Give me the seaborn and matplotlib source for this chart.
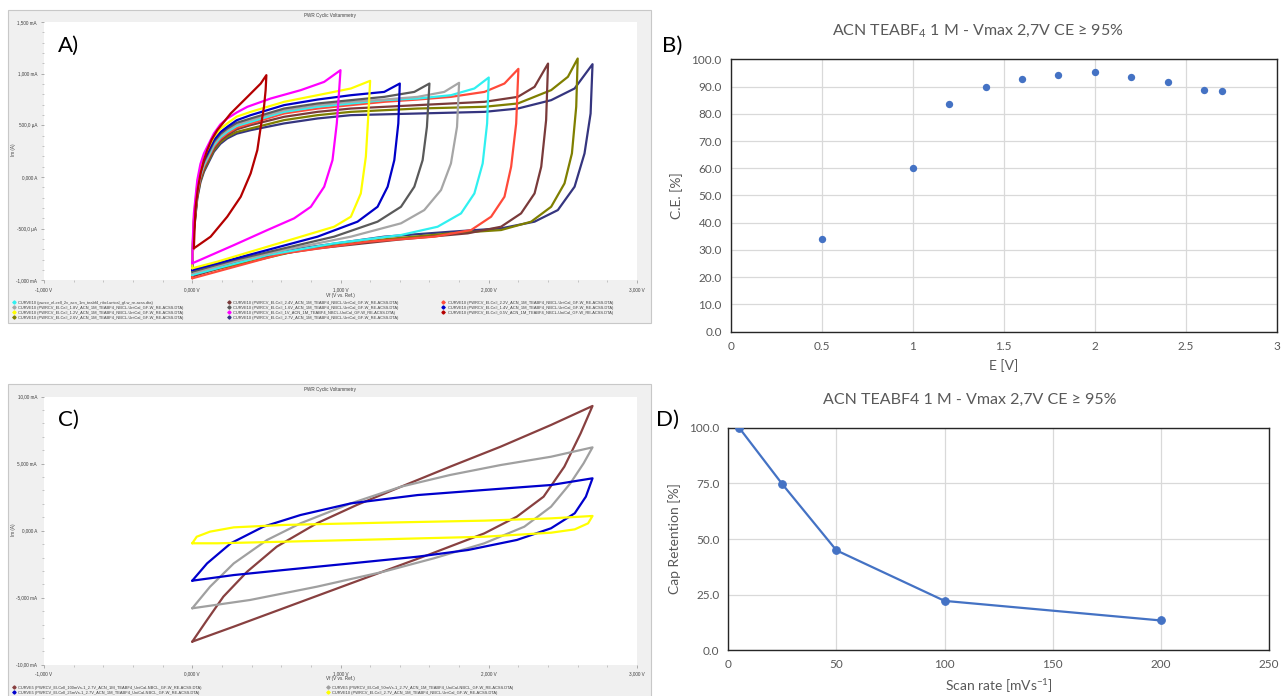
import matplotlib
matplotlib.use("Agg")
import matplotlib.pyplot as plt
from matplotlib.patches import Rectangle
from matplotlib.lines import Line2D
from matplotlib.ticker import AutoMinorLocator
import pandas as pd
import seaborn as sns

# ---------------- Panel A: CV at increasing vertex potential (mA vs V) ----------------
A_V_05 = [0.011, 0.016, 0.023, 0.038, 0.056, 0.078, 0.101, 0.130, 0.169, 0.259, 0.372, 0.462, 0.500, 0.495, 0.484, 0.462, 0.439, 0.394, 0.327, 0.236, 0.124, 0.011]
A_I_05 = [-0.689, -0.490, -0.287, -0.110, 0.036, 0.160, 0.261, 0.360, 0.454, 0.615, 0.776, 0.905, 0.986, 0.841, 0.680, 0.486, 0.261, 0.036, -0.190, -0.383, -0.576, -0.689]

A_V_10 = [0.000, 0.004, 0.011, 0.034, 0.055, 0.079, 0.146, 0.190, 0.236, 0.300, 0.372, 0.529, 0.732, 0.890, 1.000, 0.991, 0.975, 0.946, 0.890, 0.800, 0.687, 0.507, 0.282, 0.000]
A_I_10 = [-0.834, -0.590, -0.351, -0.029, 0.126, 0.229, 0.422, 0.510, 0.567, 0.625, 0.680, 0.760, 0.841, 0.921, 1.034, 0.841, 0.519, 0.164, -0.093, -0.287, -0.399, -0.512, -0.657, -0.834]

A_V_12 = [0.000, 0.004, 0.011, 0.034, 0.055, 0.079, 0.146, 0.190, 0.236, 0.300, 0.394, 0.619, 0.845, 1.070, 1.200, 1.187, 1.171, 1.137, 1.070, 0.957, 0.845, 0.507, 0.169, 0.000]
A_I_12 = [-0.882, -0.630, -0.383, -0.061, 0.094, 0.197, 0.390, 0.467, 0.519, 0.585, 0.631, 0.728, 0.792, 0.857, 0.931, 0.583, 0.197, -0.158, -0.383, -0.480, -0.528, -0.673, -0.818, -0.882]

A_V_14 = [0.000, 0.004, 0.011, 0.034, 0.055, 0.079, 0.146, 0.190, 0.236, 0.300, 0.394, 0.619, 0.845, 1.070, 1.295, 1.400, 1.390, 1.363, 1.318, 1.250, 1.115, 0.845, 0.507, 0.169, 0.000]
A_I_14 = [-0.898, -0.650, -0.415, -0.093, 0.061, 0.164, 0.358, 0.435, 0.486, 0.550, 0.599, 0.696, 0.750, 0.792, 0.824, 0.905, 0.519, 0.164, -0.093, -0.287, -0.431, -0.576, -0.705, -0.834, -0.898]

A_V_16 = [0.000, 0.004, 0.011, 0.034, 0.055, 0.079, 0.146, 0.190, 0.236, 0.300, 0.394, 0.619, 0.845, 1.070, 1.295, 1.498, 1.600, 1.583, 1.554, 1.498, 1.408, 1.250, 0.957, 0.619, 0.282, 0.000]
A_I_16 = [-0.914, -0.670, -0.431, -0.109, 0.045, 0.148, 0.341, 0.418, 0.470, 0.525, 0.567, 0.663, 0.712, 0.744, 0.776, 0.824, 0.905, 0.486, 0.164, -0.093, -0.287, -0.431, -0.576, -0.689, -0.802, -0.914]

A_V_18 = [0.000, 0.004, 0.011, 0.034, 0.055, 0.079, 0.146, 0.190, 0.236, 0.300, 0.394, 0.619, 0.845, 1.070, 1.295, 1.520, 1.700, 1.800, 1.786, 1.745, 1.678, 1.565, 1.408, 1.070, 0.619, 0.282, 0.000]
A_I_18 = [-0.930, -0.690, -0.447, -0.125, 0.029, 0.132, 0.326, 0.403, 0.454, 0.510, 0.551, 0.647, 0.696, 0.728, 0.750, 0.776, 0.824, 0.912, 0.486, 0.132, -0.125, -0.319, -0.447, -0.576, -0.705, -0.818, -0.930]

A_V_20 = [0.000, 0.004, 0.011, 0.034, 0.055, 0.079, 0.146, 0.190, 0.236, 0.300, 0.394, 0.619, 0.845, 1.070, 1.295, 1.520, 1.745, 1.903, 2.000, 1.989, 1.959, 1.903, 1.813, 1.655, 1.408, 0.957, 0.507, 0.000]
A_I_20 = [-0.946, -0.700, -0.463, -0.141, 0.013, 0.116, 0.309, 0.386, 0.438, 0.495, 0.535, 0.631, 0.680, 0.712, 0.744, 0.760, 0.792, 0.857, 0.963, 0.519, 0.132, -0.158, -0.351, -0.480, -0.560, -0.641, -0.754, -0.946]

A_V_22 = [0.000, 0.004, 0.011, 0.034, 0.055, 0.079, 0.146, 0.190, 0.236, 0.300, 0.394, 0.619, 0.845, 1.070, 1.295, 1.520, 1.745, 1.971, 2.106, 2.200, 2.185, 2.151, 2.106, 2.016, 1.881, 1.633, 1.182, 0.619, 0.000]
A_I_22 = [-0.979, -0.730, -0.480, -0.158, -0.003, 0.100, 0.293, 0.370, 0.422, 0.478, 0.519, 0.615, 0.663, 0.696, 0.728, 0.750, 0.776, 0.824, 0.905, 1.047, 0.519, 0.100, -0.190, -0.383, -0.512, -0.576, -0.625, -0.737, -0.979]

A_V_24 = [0.000, 0.004, 0.011, 0.034, 0.055, 0.079, 0.146, 0.190, 0.236, 0.300, 0.394, 0.619, 0.845, 1.070, 1.520, 1.971, 2.196, 2.309, 2.400, 2.387, 2.354, 2.309, 2.218, 2.083, 1.858, 1.408, 0.845, 0.394, 0.000]
A_I_24 = [-0.962, -0.730, -0.496, -0.174, -0.019, 0.084, 0.277, 0.354, 0.406, 0.462, 0.503, 0.583, 0.631, 0.663, 0.696, 0.728, 0.776, 0.873, 1.098, 0.551, 0.100, -0.158, -0.351, -0.480, -0.544, -0.602, -0.689, -0.786, -0.962]

A_V_26 = [0.000, 0.004, 0.011, 0.034, 0.055, 0.079, 0.146, 0.190, 0.236, 0.300, 0.394, 0.619, 0.845, 1.070, 1.520, 1.971, 2.196, 2.421, 2.534, 2.600, 2.590, 2.561, 2.511, 2.421, 2.286, 2.083, 1.745, 1.295, 0.732, 0.000]
A_I_26 = [-0.946, -0.730, -0.512, -0.190, -0.035, 0.068, 0.261, 0.338, 0.390, 0.437, 0.470, 0.551, 0.599, 0.631, 0.663, 0.680, 0.712, 0.841, 0.970, 1.147, 0.680, 0.229, -0.061, -0.287, -0.431, -0.512, -0.544, -0.602, -0.705, -0.946]

A_V_27 = [0.000, 0.004, 0.011, 0.034, 0.055, 0.079, 0.146, 0.190, 0.236, 0.300, 0.394, 0.619, 0.845, 1.070, 1.520, 1.971, 2.196, 2.421, 2.579, 2.700, 2.687, 2.646, 2.579, 2.466, 2.309, 2.083, 1.745, 1.295, 0.732, 0.000]
A_I_27 = [-0.914, -0.720, -0.528, -0.206, -0.051, 0.052, 0.245, 0.322, 0.374, 0.420, 0.454, 0.519, 0.567, 0.599, 0.615, 0.631, 0.663, 0.744, 0.857, 1.092, 0.615, 0.229, -0.093, -0.319, -0.431, -0.496, -0.528, -0.576, -0.689, -0.914]

A_XTICKS = [-1, 0, 1, 2, 3]
A_XLABELS = ["-1,000 V", "0,000 V", "1,000 V", "2,000 V", "3,000 V"]
A_YTICKS = [-1.0, -0.5, 0.0, 0.5, 1.0, 1.5]
A_YLABELS = ["-1,000 mA", "-500,0 \u00b5A", "0,000 A", "500,0 \u00b5A", "1,000 mA", "1,500 mA"]

# legend entries, listed column by column
A_LEGEND = [
    ("cv20", "CURVE10 (pwrcv_el-cell_2v_acn_1m_teabf4_nbcl-unical_gf-w_re-acss.dta)"),
    ("cv18", "CURVE10 (PWRCV_El-Cell_1.8V_ACN_1M_TEABF4_NBCL-UniCal_GF-W_RE-ACSS.DTA)"),
    ("cv12", "CURVE10 (PWRCV_El-Cell_1.2V_ACN_1M_TEABF4_NBCL-UniCal_GF-W_RE-ACSS.DTA)"),
    ("cv26", "CURVE10 (PWRCV_El-Cell_2.6V_ACN_1M_TEABF4_NBCL-UniCal_GF-W_RE-ACSS.DTA)"),
    ("cv24", "CURVE10 (PWRCV_El-Cell_2.4V_ACN_1M_TEABF4_NBCL-UniCal_GF-W_RE-ACSS.DTA)"),
    ("cv16", "CURVE10 (PWRCV_El-Cell_1.6V_ACN_1M_TEABF4_NBCL-UniCal_GF-W_RE-ACSS.DTA)"),
    ("cv10", "CURVE10 (PWRCV_El-Cell_1V_ACN_1M_TEABF4_NBCL-UniCal_GF-W_RE-ACSS.DTA)"),
    ("cv27", "CURVE10 (PWRCV_El-Cell_2.7V_ACN_1M_TEABF4_NBCL-UniCal_GF-W_RE-ACSS.DTA)"),
    ("cv22", "CURVE10 (PWRCV_El-Cell_2.2V_ACN_1M_TEABF4_NBCL-UniCal_GF-W_RE-ACSS.DTA)"),
    ("cv14", "CURVE10 (PWRCV_El-Cell_1.4V_ACN_1M_TEABF4_NBCL-UniCal_GF-W_RE-ACSS.DTA)"),
    ("cv05", "CURVE10 (PWRCV_El-Cell_0.5V_ACN_1M_TEABF4_NBCL-UniCal_GF-W_RE-ACSS.DTA)"),
]

# ---------------- Panel B: coulombic efficiency vs vertex potential ----------------
B_E = [0.5, 1.0, 1.2, 1.4, 1.6, 1.8, 2.0, 2.2, 2.4, 2.6, 2.7]
B_CE = [33.9, 60.0, 83.6, 89.9, 92.7, 94.3, 95.3, 93.5, 91.8, 88.7, 88.2]

# ---------------- Panel C: CV at 2.7 V for several scan rates (mA vs V) ----------------
C_V_100 = [0.00, 0.10, 0.21, 0.37, 0.57, 0.84, 1.11, 1.41, 1.74, 2.08, 2.42, 2.70, 2.62, 2.51, 2.37, 2.19, 1.97, 1.59, 1.07, 0.62, 0.28, 0.00]
C_I_100 = [-8.28, -6.66, -4.92, -3.06, -1.19, 0.55, 1.92, 3.29, 4.78, 6.27, 7.89, 9.31, 7.27, 4.78, 2.54, 1.05, -0.20, -1.81, -3.93, -5.77, -7.16, -8.28]

C_V_50 = [0.00, 0.12, 0.28, 0.505, 0.73, 1.07, 1.41, 1.74, 2.08, 2.42, 2.70, 2.64, 2.55, 2.42, 2.24, 1.97, 1.63, 1.29, 0.84, 0.39, 0.00]
C_I_50 = [-5.79, -4.18, -2.44, -0.69, 0.55, 2.04, 3.29, 4.16, 4.90, 5.52, 6.22, 5.03, 3.53, 1.79, 0.30, -0.94, -2.06, -3.06, -4.18, -5.17, -5.79]

C_V_25 = [0.00, 0.10, 0.26, 0.48, 0.73, 1.07, 1.52, 1.97, 2.42, 2.70, 2.655, 2.58, 2.42, 2.19, 1.86, 1.52, 1.07, 0.62, 0.28, 0.00]
C_I_25 = [-3.73, -2.44, -0.94, 0.30, 1.17, 2.04, 2.66, 3.04, 3.41, 3.91, 2.54, 1.30, 0.18, -0.69, -1.44, -1.94, -2.44, -2.93, -3.31, -3.73]

C_V_5 = [0.00, 0.03, 0.12, 0.28, 0.62, 1.29, 1.97, 2.42, 2.70, 2.67, 2.58, 2.42, 1.97, 1.29, 0.62, 0.17, 0.00]
C_I_5 = [-0.94, -0.45, -0.07, 0.25, 0.43, 0.60, 0.75, 0.92, 1.10, 0.55, 0.10, -0.15, -0.45, -0.64, -0.82, -0.94, -0.94]

C_XTICKS = [-1, 0, 1, 2, 3]
C_XLABELS = ["-1,000 V", "0,000 V", "1,000 V", "2,000 V", "3,000 V"]
C_YTICKS = [-10, -5, 0, 5, 10]
C_YLABELS = ["-10,00 mA", "-5,000 mA", "0,000 A", "5,000 mA", "10,00 mA"]

C_LEGEND = [
    ("sr100", "CURVE5 (PWRCV_El-Cell_100mVs-1_2.7V_ACN_1M_TEABF4_UniCal-NBCL_GF-W_RE-ACSS.DTA)"),
    ("sr25", "CURVE5 (PWRCV_El-Cell_25mVs-1_2.7V_ACN_1M_TEABF4_UniCal-NBCL_GF-W_RE-ACSS.DTA)"),
    ("sr50", "CURVE5 (PWRCV_El-Cell_50mVs-1_2.7V_ACN_1M_TEABF4_UniCal-NBCL_GF-W_RE-ACSS.DTA)"),
    ("sr5", "CURVE10 (PWRCV_El-Cell_2.7V_ACN_1M_TEABF4_NBCL-UniCal_GF-W_RE-ACSS.DTA)"),
]

# ---------------- Panel D: capacitance retention vs scan rate ----------------
D_RATE = [5, 25, 50, 100, 200]
D_RET = [100.0, 74.6, 44.9, 22.2, 13.4]

TITLE_B = "ACN TEABF$_\\mathrm{4}$ 1 M - Vmax 2,7V CE \u2265 95%"
TITLE_D = "ACN TEABF4 1 M - Vmax 2,7V CE \u2265 95%"

# ---------------- styling ----------------
A_COLORS = {
    "cv05": "#b40000", "cv10": "#ff00ff", "cv12": "#ffff00", "cv14": "#0000c8",
    "cv16": "#5a5a5a", "cv18": "#a6a6a6", "cv20": "#30f0f0", "cv22": "#ff4a3a",
    "cv24": "#7a3a3a", "cv26": "#7f7f00", "cv27": "#35357f",
}
C_COLORS = {"sr100": "#884040", "sr50": "#a0a0a0", "sr25": "#0000cc", "sr5": "#ffff00"}

sns.set_theme(style="white")
plt.rcParams["font.family"] = ["Lato", "DejaVu Sans"]
plt.rcParams["mathtext.fontset"] = "custom"
plt.rcParams["mathtext.rm"] = "Lato"
plt.rcParams["mathtext.it"] = "Lato:italic"

W, H = 1287, 696
fig = plt.figure(figsize=(W / 100, H / 100), dpi=100)


def box(l, t, r, b):
    return [l / W, 1 - b / H, (r - l) / W, (b - t) / H]


GAMRY_FONT = ["Liberation Sans", "DejaVu Sans"]
TXT = "#404040"


def gamry_frame(top, bottom):
    fig.patches.append(Rectangle((8 / W, 1 - bottom / H), (651 - 8) / W, (bottom - top) / H,
                                 transform=fig.transFigure, facecolor="#f0f0f0",
                                 edgecolor="#c8c8c8", lw=0.8, zorder=-5))


def gamry_axes(ax, xt, xl, yt, yl, ylim):
    ax.set_facecolor("white")
    for s in ax.spines.values():
        s.set_visible(False)
    ax.set_xlim(-1, 3)
    ax.set_ylim(*ylim)
    ax.set_xticks(xt)
    ax.set_xticklabels(xl, fontsize=3.3, color=TXT, family=GAMRY_FONT)
    ax.set_yticks(yt)
    ax.set_yticklabels(yl, fontsize=3.3, color=TXT, family=GAMRY_FONT)
    ax.xaxis.set_minor_locator(AutoMinorLocator(5))
    ax.yaxis.set_minor_locator(AutoMinorLocator(5))
    ax.tick_params(which="major", bottom=True, left=True, length=2.5, width=0.5,
                   color="#909090", pad=2.5)
    ax.tick_params(which="minor", bottom=True, left=True, length=1.3, width=0.4,
                   color="#a0a0a0")
    ax.set_xlabel("")
    ax.set_ylabel("")


def draw_loop(ax, v, i, color, lw=1.6):
    d = pd.DataFrame({"V": v, "I": i})
    sns.lineplot(data=d, x="V", y="I", sort=False, estimator=None, color=color,
                 lw=lw, ax=ax, legend=False)


def gamry_legend(entries, colors, ncol, top, spacing):
    handles = [Line2D([], [], color=colors[k], marker="D", markersize=1.6, lw=0.4)
               for k, _ in entries]
    return fig.legend(handles, [t for _, t in entries], ncol=ncol, loc="upper left",
                      bbox_to_anchor=(9 / W, 1 - top / H), frameon=False,
                      prop={"family": GAMRY_FONT, "size": 2.9}, labelcolor=TXT,
                      handlelength=0.9, handletextpad=0.6, columnspacing=spacing,
                      labelspacing=0.25, borderpad=0.2)


# ---------------- Panel A ----------------
gamry_frame(10, 323)
axA = fig.add_axes(box(44, 22, 637, 280.5))
A_CURVES = {
    "cv27": (A_V_27, A_I_27), "cv26": (A_V_26, A_I_26), "cv24": (A_V_24, A_I_24),
    "cv22": (A_V_22, A_I_22), "cv20": (A_V_20, A_I_20), "cv18": (A_V_18, A_I_18),
    "cv16": (A_V_16, A_I_16), "cv14": (A_V_14, A_I_14), "cv12": (A_V_12, A_I_12),
    "cv10": (A_V_10, A_I_10), "cv05": (A_V_05, A_I_05),
}
for key, (v, i) in A_CURVES.items():
    draw_loop(axA, v, i, A_COLORS[key])
gamry_axes(axA, A_XTICKS, A_XLABELS, A_YTICKS, A_YLABELS, (-1.0, 1.5))
fig.text(330 / W, 1 - 15 / H, "PWR Cyclic Voltammetry", fontsize=3.3, color=TXT,
         family=GAMRY_FONT, ha="center", va="center")
fig.text(13 / W, 1 - 150 / H, "Im (A)", fontsize=3.3, color=TXT, family=GAMRY_FONT,
         rotation=90, ha="center", va="center")
fig.text(340 / W, 1 - 295.5 / H, "Vf (V vs. Ref.)", fontsize=3.3, color=TXT,
         family=GAMRY_FONT, ha="center", va="center")
fig.text(68 / W, 1 - 46 / H, "A)", fontsize=16, color="black", ha="center", va="center")
gamry_legend(A_LEGEND, A_COLORS, 3, 298, 10.8)

# ---------------- Panel C ----------------
gamry_frame(384, 700)
axC = fig.add_axes(box(44, 396.7, 637, 664.7))
draw_loop(axC, C_V_100, C_I_100, C_COLORS["sr100"])
draw_loop(axC, C_V_50, C_I_50, C_COLORS["sr50"])
draw_loop(axC, C_V_25, C_I_25, C_COLORS["sr25"])
draw_loop(axC, C_V_5, C_I_5, C_COLORS["sr5"])
gamry_axes(axC, C_XTICKS, C_XLABELS, C_YTICKS, C_YLABELS, (-10, 10))
fig.text(330 / W, 1 - 390 / H, "PWR Cyclic Voltammetry", fontsize=3.3, color=TXT,
         family=GAMRY_FONT, ha="center", va="center")
fig.text(13 / W, 1 - 530 / H, "Im (A)", fontsize=3.3, color=TXT, family=GAMRY_FONT,
         rotation=90, ha="center", va="center")
fig.text(340 / W, 1 - 678.5 / H, "Vf (V vs. Ref.)", fontsize=3.3, color=TXT,
         family=GAMRY_FONT, ha="center", va="center")
fig.text(68 / W, 1 - 420 / H, "C)", fontsize=16, color="black", ha="center", va="center")
gamry_legend(C_LEGEND, C_COLORS, 2, 683, 31.0)

# ---------------- Excel-style panels ----------------
GRID = "#d9d9d9"
LAB = "#595959"
BLUE = "#4472c4"


def excel_axes(ax):
    ax.set_facecolor("white")
    for s in ax.spines.values():
        s.set_visible(True)
        s.set_color("#262626")
        s.set_linewidth(1.0)
    ax.grid(True, color=GRID, lw=0.9)
    ax.set_axisbelow(True)
    ax.tick_params(length=0, labelsize=8.5, labelcolor=LAB, pad=6.5)


# Panel B
axB = fig.add_axes(box(730.7, 59.3, 1276.7, 331.7))
sns.scatterplot(x=B_E, y=B_CE, color=BLUE, s=28, edgecolor=BLUE, linewidth=0, ax=axB, zorder=3)
axB.set_xlim(0, 3)
axB.set_ylim(0, 100)
axB.set_xticks([0, 0.5, 1, 1.5, 2, 2.5, 3])
axB.set_xticklabels(["0", "0.5", "1", "1.5", "2", "2.5", "3"])
axB.set_yticks(range(0, 101, 10))
axB.set_yticklabels([f"{v:.1f}" for v in range(0, 101, 10)])
excel_axes(axB)
axB.set_xlabel("E [V]", fontsize=10, color=LAB, labelpad=5)
axB.set_ylabel("C.E. [%]", fontsize=10, color=LAB, labelpad=6)
fig.text(978 / W, 1 - 31 / H, TITLE_B, fontsize=11.5, color=LAB, ha="center", va="center")
fig.text(672 / W, 1 - 46 / H, "B)", fontsize=16, color="black", ha="center", va="center")

# Panel D
axD = fig.add_axes(box(728.3, 427.7, 1269, 650.3))
sns.lineplot(x=D_RATE, y=D_RET, color=BLUE, lw=1.6, marker="o", markersize=5.5,
             markeredgecolor=BLUE, ax=axD, zorder=3)
axD.set_xlim(0, 250)
axD.set_ylim(0, 100)
axD.set_xticks(range(0, 251, 50))
axD.set_yticks([0, 25, 50, 75, 100])
axD.set_yticklabels([f"{v:.1f}" for v in [0, 25, 50, 75, 100]])
excel_axes(axD)
axD.set_xlabel("Scan rate [mVs$^{\\mathrm{-1}}$]", fontsize=10, color=LAB, labelpad=5)
axD.set_ylabel("Cap Retention [%]", fontsize=10, color=LAB, labelpad=6)
fig.text(970 / W, 1 - 400 / H, TITLE_D, fontsize=11.5, color=LAB, ha="center", va="center")
fig.text(668 / W, 1 - 420 / H, "D)", fontsize=16, color="black", ha="center", va="center")

fig.savefig("out.png", dpi=100, facecolor="white")
